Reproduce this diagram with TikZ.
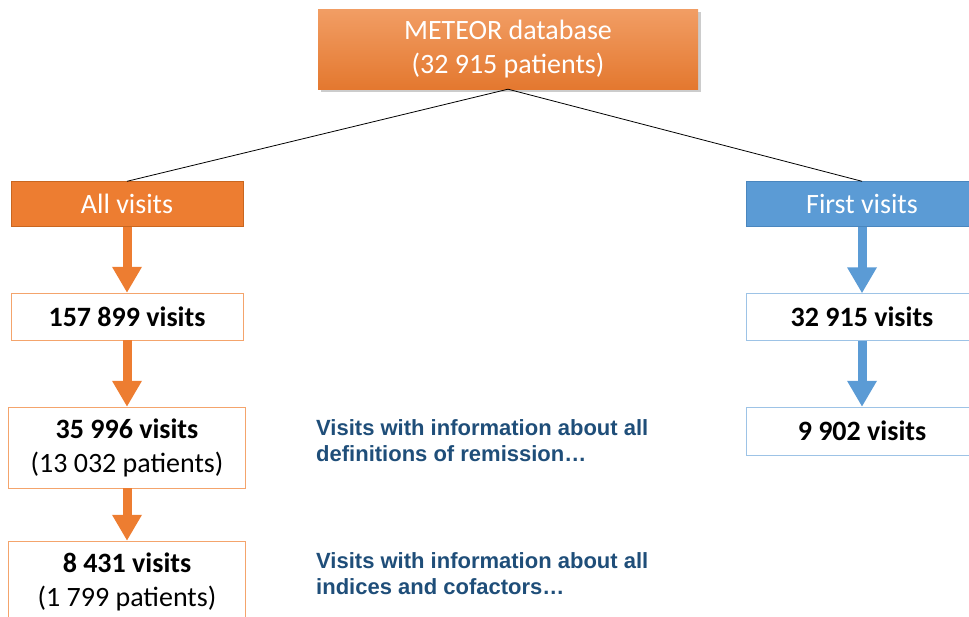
\documentclass[tikz,border=0pt]{standalone}
\usepackage{fontspec}
\setmainfont{Carlito}
\newfontfamily\notefont{Liberation Sans}
\usetikzlibrary{arrows.meta,shadows}
\definecolor{allorange}{HTML}{ED7D31}
\definecolor{allorangedark}{HTML}{C9661F}
\definecolor{lightorange}{HTML}{F4A46C}
\definecolor{firstblue}{HTML}{5B9BD5}
\definecolor{firstbluedark}{HTML}{4A86BE}
\definecolor{lightblue}{HTML}{9DC3E6}
\definecolor{notecolor}{HTML}{1F4E79}
\begin{document}
\begin{tikzpicture}[x=1pt,y=-1pt,
    main_font/.style={font=\fontsize{28}{34}\selectfont},
    top_style/.style={main_font,draw=none,top color=allorange!75!white,bottom color=allorange!96!black,
        text=white,align=center,minimum width=380pt,minimum height=80pt,inner sep=0pt,
        drop shadow={shadow xshift=3pt,shadow yshift=-3pt,fill=black!50,opacity=.4}},
    group_orange/.style={main_font,draw=allorangedark,fill=allorange,text=white,
        minimum width=232pt,minimum height=45pt,inner sep=0pt},
    group_blue/.style={main_font,draw=firstbluedark,fill=firstblue,text=white,
        minimum width=232pt,minimum height=45pt,inner sep=0pt},
    count_orange/.style={main_font,draw=lightorange,fill=white,align=center,
        minimum width=232pt,minimum height=47pt,inner sep=0pt},
    count_blue/.style={main_font,draw=lightblue,fill=white,align=center,
        minimum width=232pt,minimum height=47pt,inner sep=0pt},
    note_style/.style={font=\notefont\bfseries\fontsize{22}{26}\selectfont,text=notecolor,
        align=left,inner sep=0pt,anchor=north west},
    edge_style/.style={draw=black,line width=0.8pt},
    arrow_orange/.style={draw=allorange,line width=9pt,-{Triangle[width=28pt,length=26pt]}},
    arrow_blue/.style={draw=firstblue,line width=9pt,-{Triangle[width=28pt,length=26pt]}}]
    \useasboundingbox (0,0) rectangle (969,616);
    \clip (0,0) rectangle (969,616);
    \node[top_style] (meteor) at (508,49) {METEOR database\\(32 915 patients)};
    \node[group_orange] (all) at (127,204) {All visits};
    \node[group_blue] (first) at (862,204) {First visits};
    \node[count_orange] (c157) at (127,316.5) {\textbf{157 899 visits}};
    \node[count_orange,minimum width=237pt,minimum height=81pt] (c35) at (127,447.5) {\textbf{35 996 visits}\\(13 032 patients)};
    \node[count_orange,minimum width=237pt,minimum height=81pt] (c8) at (127,581.5) {\textbf{8 431 visits}\\(1 799 patients)};
    \node[count_blue] (c32) at (862,317) {\textbf{32 915 visits}};
    \node[count_blue,minimum height=48pt] (c9) at (862,431) {\textbf{9 902 visits}};
    \node[note_style] (note1) at (316,419) {Visits with information about all\\definitions of remission…};
    \node[note_style] (note2) at (316,552) {Visits with information about all\\indices and cofactors…};
    \draw[edge_style] (meteor.south) -- (all.north);
    \draw[edge_style] (meteor.south) -- (first.north);
    \draw[arrow_orange] (all) -- (c157);
    \draw[arrow_orange] (c157) -- (c35);
    \draw[arrow_orange] (c35) -- (c8);
    \draw[arrow_blue] (first) -- (c32);
    \draw[arrow_blue] (c32) -- (c9);
\end{tikzpicture}
\end{document}
